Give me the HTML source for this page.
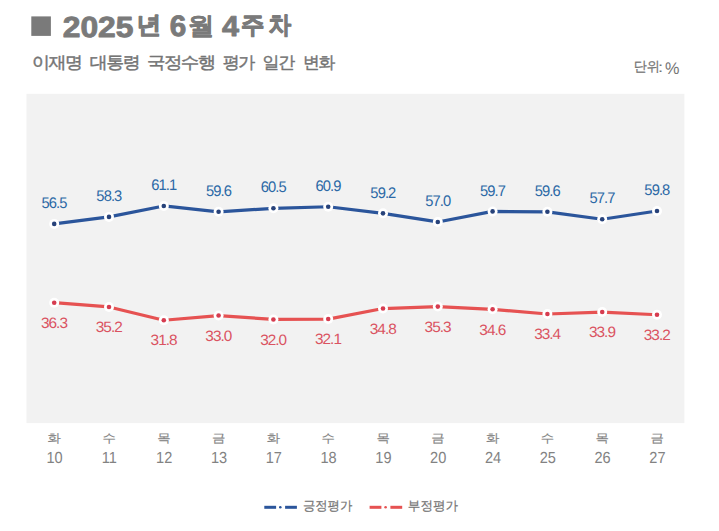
<!DOCTYPE html>
<html><head><meta charset="utf-8"><style>
html,body{margin:0;padding:0;background:#fff;width:719px;height:531px;overflow:hidden}
svg{position:absolute;left:0;top:0}
text{font-family:"Liberation Sans",sans-serif;text-rendering:geometricPrecision}
.td{font-size:33px;font-weight:bold;fill:#7a7a7a;stroke:#7a7a7a;stroke-width:1.0px;stroke-linejoin:round}
.tk{font-size:26px;font-weight:bold;fill:#7a7a7a;stroke:#7a7a7a;stroke-width:1.1px;stroke-linejoin:round}
.st{font-size:18px;letter-spacing:-1.5px;fill:#747474;stroke:#747474;stroke-width:0.45px}
.un{font-size:14px;fill:#747474;stroke:#747474;stroke-width:0.25px}
.lb{font-size:16px;text-anchor:middle;letter-spacing:-1px;fill:#2c69a6}
.lr{font-size:16px;text-anchor:middle;letter-spacing:-1px;fill:#da5361}
.ax{font-size:14px;fill:#828282;text-anchor:middle}
.lg{font-size:14px;fill:#747474;stroke:#747474;stroke-width:0.25px}
.tk2{stroke-width:0.3px} .axk{stroke:#828282;stroke-width:0.15px} .un2{stroke-width:0px}

</style></head><body>
<svg width="719" height="531" viewBox="0 0 719 531">
<rect id="sq" x="31.3" y="16.4" width="19.6" height="19.5" fill="#7a7a7a"/><g id="t2025" transform="translate(62.70,36.71) scale(0.9639,0.8797)"><text x="0" y="0" class="td" >2025</text></g><g id="tnyeon" transform="translate(136.45,33.37) scale(0.9541,0.9120)"><text x="0" y="0" class="tk" >년</text></g><g id="t6" transform="translate(169.70,36.45) scale(0.8982,0.8964)"><text x="0" y="0" class="td" >6</text></g><g id="twol" transform="translate(187.83,33.57) scale(1.0270,0.9368)"><text x="0" y="0" class="tk tk2" >월</text></g><g id="t4" transform="translate(221.90,36.12) scale(0.9269,0.8747)"><text x="0" y="0" class="td" >4</text></g><g id="tju" transform="translate(240.98,32.55) scale(0.8990,0.9238)"><text x="0" y="0" class="tk" >주</text></g><g id="tcha" transform="translate(268.38,33.39) scale(0.8694,0.9217)"><text x="0" y="0" class="tk" >차</text></g><g id="s1" transform="translate(32.02,67.70) scale(1.0000,0.9300)"><text x="0" y="0" class="st" >이재명</text></g><g id="s2" transform="translate(89.80,67.70) scale(0.9970,0.9300)"><text x="0" y="0" class="st" >대통령</text></g><g id="s3" transform="translate(146.91,67.70) scale(1.0282,0.9300)"><text x="0" y="0" class="st" >국정수행</text></g><g id="s4" transform="translate(222.63,67.70) scale(0.9455,0.9300)"><text x="0" y="0" class="st" >평가</text></g><g id="s5" transform="translate(262.61,67.70) scale(0.9414,0.9300)"><text x="0" y="0" class="st" >일간</text></g><g id="s6" transform="translate(303.10,67.70) scale(0.9348,0.9300)"><text x="0" y="0" class="st" >변화</text></g><g id="unit" transform="translate(633.65,71.44) scale(0.9399,0.9760)"><text x="0" y="0" class="un" >단위</text></g><g id="ucol" transform="translate(657.99,71.70) scale(1.3169,1.0060)"><text x="0" y="0" class="un un2" >:</text></g><g id="upct" transform="translate(665.08,73.60) scale(1.1598,1.2000)"><text x="0" y="0" class="un un2" >%</text></g>
<rect x="26.5" y="93.8" width="657.9" height="329.3" fill="#f2f2f2"/><polyline points="54.20,223.90 109.00,216.88 163.80,205.96 218.60,211.81 273.40,208.30 328.20,206.74 383.00,213.37 437.80,221.95 492.60,211.42 547.40,211.81 602.20,219.22 657.00,211.03" fill="none" stroke="#2b559b" stroke-width="3.2" stroke-linejoin="round"/><circle cx="54.20" cy="223.90" r="5.0" fill="#fff"/><circle cx="54.20" cy="223.90" r="2.3" fill="#27427a"/><circle cx="109.00" cy="216.88" r="5.0" fill="#fff"/><circle cx="109.00" cy="216.88" r="2.3" fill="#27427a"/><circle cx="163.80" cy="205.96" r="5.0" fill="#fff"/><circle cx="163.80" cy="205.96" r="2.3" fill="#27427a"/><circle cx="218.60" cy="211.81" r="5.0" fill="#fff"/><circle cx="218.60" cy="211.81" r="2.3" fill="#27427a"/><circle cx="273.40" cy="208.30" r="5.0" fill="#fff"/><circle cx="273.40" cy="208.30" r="2.3" fill="#27427a"/><circle cx="328.20" cy="206.74" r="5.0" fill="#fff"/><circle cx="328.20" cy="206.74" r="2.3" fill="#27427a"/><circle cx="383.00" cy="213.37" r="5.0" fill="#fff"/><circle cx="383.00" cy="213.37" r="2.3" fill="#27427a"/><circle cx="437.80" cy="221.95" r="5.0" fill="#fff"/><circle cx="437.80" cy="221.95" r="2.3" fill="#27427a"/><circle cx="492.60" cy="211.42" r="5.0" fill="#fff"/><circle cx="492.60" cy="211.42" r="2.3" fill="#27427a"/><circle cx="547.40" cy="211.81" r="5.0" fill="#fff"/><circle cx="547.40" cy="211.81" r="2.3" fill="#27427a"/><circle cx="602.20" cy="219.22" r="5.0" fill="#fff"/><circle cx="602.20" cy="219.22" r="2.3" fill="#27427a"/><circle cx="657.00" cy="211.03" r="5.0" fill="#fff"/><circle cx="657.00" cy="211.03" r="2.3" fill="#27427a"/><polyline points="54.20,302.68 109.00,306.97 163.80,320.23 218.60,315.55 273.40,319.45 328.20,319.06 383.00,308.53 437.80,306.58 492.60,309.31 547.40,313.99 602.20,312.04 657.00,314.77" fill="none" stroke="#e65252" stroke-width="3.2" stroke-linejoin="round"/><circle cx="54.20" cy="302.68" r="5.0" fill="#fff"/><circle cx="54.20" cy="302.68" r="2.3" fill="#d63c50"/><circle cx="109.00" cy="306.97" r="5.0" fill="#fff"/><circle cx="109.00" cy="306.97" r="2.3" fill="#d63c50"/><circle cx="163.80" cy="320.23" r="5.0" fill="#fff"/><circle cx="163.80" cy="320.23" r="2.3" fill="#d63c50"/><circle cx="218.60" cy="315.55" r="5.0" fill="#fff"/><circle cx="218.60" cy="315.55" r="2.3" fill="#d63c50"/><circle cx="273.40" cy="319.45" r="5.0" fill="#fff"/><circle cx="273.40" cy="319.45" r="2.3" fill="#d63c50"/><circle cx="328.20" cy="319.06" r="5.0" fill="#fff"/><circle cx="328.20" cy="319.06" r="2.3" fill="#d63c50"/><circle cx="383.00" cy="308.53" r="5.0" fill="#fff"/><circle cx="383.00" cy="308.53" r="2.3" fill="#d63c50"/><circle cx="437.80" cy="306.58" r="5.0" fill="#fff"/><circle cx="437.80" cy="306.58" r="2.3" fill="#d63c50"/><circle cx="492.60" cy="309.31" r="5.0" fill="#fff"/><circle cx="492.60" cy="309.31" r="2.3" fill="#d63c50"/><circle cx="547.40" cy="313.99" r="5.0" fill="#fff"/><circle cx="547.40" cy="313.99" r="2.3" fill="#d63c50"/><circle cx="602.20" cy="312.04" r="5.0" fill="#fff"/><circle cx="602.20" cy="312.04" r="2.3" fill="#d63c50"/><circle cx="657.00" cy="314.77" r="5.0" fill="#fff"/><circle cx="657.00" cy="314.77" r="2.3" fill="#d63c50"/><g id="lb" transform="translate(54.05,208.07) scale(0.9200,0.9585)"><text x="0" y="0" class="lb" >56.5</text></g><g id="lr" transform="translate(53.97,327.89) scale(0.9597,0.9359)"><text x="0" y="0" class="lr" >36.3</text></g><g transform="translate(108.85,201.05) scale(0.9200,0.9585)"><text x="0" y="0" class="lb">58.3</text></g><g transform="translate(163.65,190.13) scale(0.9200,0.9585)"><text x="0" y="0" class="lb">61.1</text></g><g transform="translate(218.45,195.98) scale(0.9200,0.9585)"><text x="0" y="0" class="lb">59.6</text></g><g transform="translate(273.25,192.47) scale(0.9200,0.9585)"><text x="0" y="0" class="lb">60.5</text></g><g transform="translate(328.05,190.91) scale(0.9200,0.9585)"><text x="0" y="0" class="lb">60.9</text></g><g transform="translate(382.85,197.54) scale(0.9200,0.9585)"><text x="0" y="0" class="lb">59.2</text></g><g transform="translate(437.65,206.12) scale(0.9200,0.9585)"><text x="0" y="0" class="lb">57.0</text></g><g transform="translate(492.45,195.59) scale(0.9200,0.9585)"><text x="0" y="0" class="lb">59.7</text></g><g transform="translate(547.25,195.98) scale(0.9200,0.9585)"><text x="0" y="0" class="lb">59.6</text></g><g transform="translate(602.05,203.39) scale(0.9200,0.9585)"><text x="0" y="0" class="lb">57.7</text></g><g transform="translate(656.85,195.20) scale(0.9200,0.9585)"><text x="0" y="0" class="lb">59.8</text></g><g transform="translate(108.77,332.18) scale(0.9597,0.9359)"><text x="0" y="0" class="lr">35.2</text></g><g transform="translate(163.57,345.44) scale(0.9597,0.9359)"><text x="0" y="0" class="lr">31.8</text></g><g transform="translate(218.37,340.76) scale(0.9597,0.9359)"><text x="0" y="0" class="lr">33.0</text></g><g transform="translate(273.17,344.66) scale(0.9597,0.9359)"><text x="0" y="0" class="lr">32.0</text></g><g transform="translate(327.97,344.27) scale(0.9597,0.9359)"><text x="0" y="0" class="lr">32.1</text></g><g transform="translate(382.77,333.74) scale(0.9597,0.9359)"><text x="0" y="0" class="lr">34.8</text></g><g transform="translate(437.57,331.79) scale(0.9597,0.9359)"><text x="0" y="0" class="lr">35.3</text></g><g transform="translate(492.37,334.52) scale(0.9597,0.9359)"><text x="0" y="0" class="lr">34.6</text></g><g transform="translate(547.17,339.20) scale(0.9597,0.9359)"><text x="0" y="0" class="lr">33.4</text></g><g transform="translate(601.97,337.25) scale(0.9597,0.9359)"><text x="0" y="0" class="lr">33.9</text></g><g transform="translate(656.77,339.98) scale(0.9597,0.9359)"><text x="0" y="0" class="lr">33.2</text></g><g id="ad" transform="translate(54.30,441.54) scale(0.9582,0.8421)"><text x="0" y="0" class="ax axk">화</text></g><g id="an" transform="translate(54.60,463.20) scale(1.0400,1.1500)"><text x="0" y="0" class="ax">10</text></g><g transform="translate(109.10,441.54) scale(0.9582,0.8421)"><text x="0" y="0" class="ax axk">수</text></g><g transform="translate(109.40,463.20) scale(1.0400,1.1500)"><text x="0" y="0" class="ax">11</text></g><g transform="translate(163.90,441.54) scale(0.9582,0.8421)"><text x="0" y="0" class="ax axk">목</text></g><g transform="translate(164.20,463.20) scale(1.0400,1.1500)"><text x="0" y="0" class="ax">12</text></g><g transform="translate(218.70,441.54) scale(0.9582,0.8421)"><text x="0" y="0" class="ax axk">금</text></g><g transform="translate(219.00,463.20) scale(1.0400,1.1500)"><text x="0" y="0" class="ax">13</text></g><g transform="translate(273.50,441.54) scale(0.9582,0.8421)"><text x="0" y="0" class="ax axk">화</text></g><g transform="translate(273.80,463.20) scale(1.0400,1.1500)"><text x="0" y="0" class="ax">17</text></g><g transform="translate(328.30,441.54) scale(0.9582,0.8421)"><text x="0" y="0" class="ax axk">수</text></g><g transform="translate(328.60,463.20) scale(1.0400,1.1500)"><text x="0" y="0" class="ax">18</text></g><g transform="translate(383.10,441.54) scale(0.9582,0.8421)"><text x="0" y="0" class="ax axk">목</text></g><g transform="translate(383.40,463.20) scale(1.0400,1.1500)"><text x="0" y="0" class="ax">19</text></g><g transform="translate(437.90,441.54) scale(0.9582,0.8421)"><text x="0" y="0" class="ax axk">금</text></g><g transform="translate(438.20,463.20) scale(1.0400,1.1500)"><text x="0" y="0" class="ax">20</text></g><g transform="translate(492.70,441.54) scale(0.9582,0.8421)"><text x="0" y="0" class="ax axk">화</text></g><g transform="translate(493.00,463.20) scale(1.0400,1.1500)"><text x="0" y="0" class="ax">24</text></g><g transform="translate(547.50,441.54) scale(0.9582,0.8421)"><text x="0" y="0" class="ax axk">수</text></g><g transform="translate(547.80,463.20) scale(1.0400,1.1500)"><text x="0" y="0" class="ax">25</text></g><g transform="translate(602.30,441.54) scale(0.9582,0.8421)"><text x="0" y="0" class="ax axk">목</text></g><g transform="translate(602.60,463.20) scale(1.0400,1.1500)"><text x="0" y="0" class="ax">26</text></g><g transform="translate(657.10,441.54) scale(0.9582,0.8421)"><text x="0" y="0" class="ax axk">금</text></g><g transform="translate(657.40,463.20) scale(1.0400,1.1500)"><text x="0" y="0" class="ax">27</text></g><rect x="264.30" y="505.8" width="11.8" height="3" fill="#2b559b"/><circle cx="280.30" cy="507.3" r="1.3" fill="#2b559b"/><rect x="285.10" y="505.8" width="11.8" height="3" fill="#2b559b"/><g id="lg1" transform="translate(302.88,509.70) scale(0.8831,0.9171)"><text x="0" y="0" class="lg" >긍정평가</text></g><rect x="369.60" y="505.8" width="11.8" height="3" fill="#e65252"/><circle cx="385.60" cy="507.3" r="1.3" fill="#e65252"/><rect x="390.40" y="505.8" width="11.8" height="3" fill="#e65252"/><g id="lg2" transform="translate(407.84,509.70) scale(0.8959,0.9171)"><text x="0" y="0" class="lg" >부정평가</text></g>
</svg>
</body></html>
